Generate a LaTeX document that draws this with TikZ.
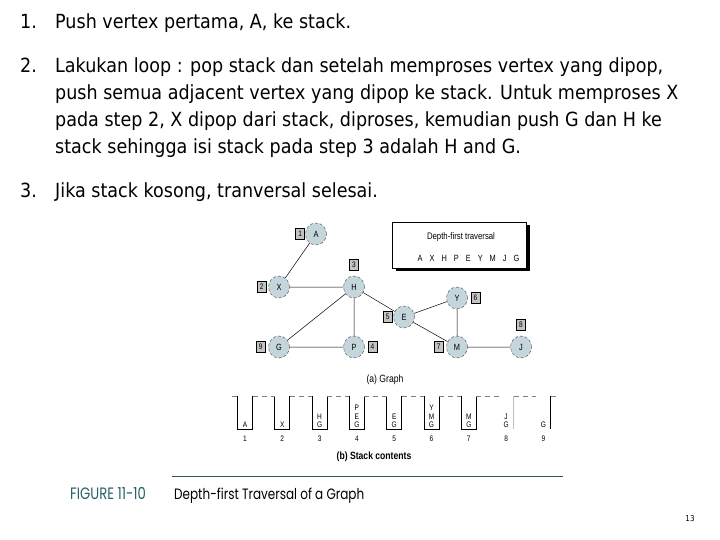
\documentclass[tikz,border=0pt]{standalone}
\usepackage{fontspec}
\setmainfont{DejaVu Sans}[FakeStretch=0.9]
\newfontfamily\figfont[FakeStretch=0.82]{Liberation Sans}
\newfontfamily\capfont[FakeStretch=0.8]{Poppins}
\usetikzlibrary{shapes,positioning,shadows}
\definecolor{vfill}{RGB}{196,214,220}
\definecolor{numgray}{RGB}{196,196,196}
\definecolor{figteal}{RGB}{38,98,104}
\definecolor{capline}{RGB}{60,84,88}

\begin{document}
\begin{tikzpicture}[x=1pt,y=-1pt]
\useasboundingbox (0,0) rectangle (720,540);
\tikzstyle{item}=[anchor=base west,inner sep=0pt,font=\fontsize{19.5}{19.5}\selectfont]
\tikzstyle{vertex}=[ellipse,draw=black!75,densely dashed,fill=vfill,minimum width=21pt,minimum height=22pt,inner sep=0pt,font=\figfont\fontsize{9}{9}\selectfont]
\tikzstyle{num}=[draw,fill=numgray,inner sep=0pt,minimum width=9pt,minimum height=11pt,font=\figfont\fontsize{8}{8}\selectfont]
\tikzstyle{edge}=[black,line width=0.5pt]
\tikzstyle{wall}=[line width=0.9pt]
\tikzstyle{gap}=[gray,line width=0.9pt,dash pattern=on 5pt off 4pt]
\tikzstyle{stackitem}=[anchor=south,align=center,inner sep=0pt,font=\figfont\fontsize{8}{8.5}\selectfont]
\tikzstyle{stacknum}=[inner sep=0pt,font=\figfont\fontsize{8}{8}\selectfont]
\tikzstyle{caption}=[anchor=base west,inner sep=0pt,font=\capfont\fontsize{15}{15}\selectfont]

\node[item] (n1) at (20,29) {1.};
\node[item] (t1) at (55,29) {Push vertex pertama, A, ke stack.};
\node[item] (n2) at (20,73) {2.};
\node[item] (t2a) at (55,73) {Lakukan loop : pop stack dan setelah memproses vertex yang dipop,};
\node[item] (t2b) at (55,100) {push semua adjacent vertex yang dipop ke stack. Untuk memproses X};
\node[item] (t2c) at (55,127) {pada step 2, X dipop dari stack, diproses, kemudian push G dan H ke};
\node[item] (t2d) at (55,154) {stack sehingga isi stack pada step 3 adalah H and G.};
\node[item] (n3) at (20,198) {3.};
\node[item] (t3) at (55,198) {Jika stack kosong, tranversal selesai.};

\node[vertex] (A) at (316,234) {A};
\node[vertex] (X) at (279,287) {X};
\node[vertex] (H) at (354,287) {H};
\node[vertex] (E) at (404,317) {E};
\node[vertex] (Y) at (457,298) {Y};
\node[vertex] (G) at (279,347) {G};
\node[vertex] (P) at (354,347) {P};
\node[vertex] (M) at (457,347) {M};
\node[vertex] (J) at (521,347) {J};

\node[num,left=0.5pt of A] (nA) {1};
\node[num,left=2pt of X] (nX) {2};
\node[num,above=5pt of H] (nH) {3};
\node[num,right=3pt of P] (nP) {4};
\node[num,left=1pt of E] (nE) {5};
\node[num,right=3pt of Y] (nY) {6};
\node[num,left=3pt of M] (nM) {7};
\node[num,above=5pt of J] (nJ) {8};
\node[num,left=3pt of G] (nG) {9};

\draw[edge] (A) -- (X) (X) -- (H) (H) -- (G) (H) -- (P) (H) -- (E)
  (G) -- (P) (E) -- (Y) (E) -- (M) (Y) -- (M) (M) -- (J);

\node[draw,line width=0.8pt,fill=white,minimum width=134pt,minimum height=46pt,
  drop shadow={shadow xshift=3pt,shadow yshift=-3pt,fill=black,opacity=1}] (trav) at (459.5,245) {};
\node[font=\figfont\fontsize{9.5}{9.5}\selectfont] (travtitle) at (461,237) {Depth-first traversal};
\node[font=\figfont\fontsize{9}{9}\selectfont] (travorder) at (468.5,258)
  {A\hspace{7pt}X\hspace{7pt}H\hspace{7pt}P\hspace{7pt}E\hspace{7pt}Y\hspace{7pt}M\hspace{7pt}J\hspace{7pt}G};

\node[font=\figfont\fontsize{10.5}{10.5}\selectfont] (capa) at (385,380) {(a) Graph};

\foreach \i/\s in {1/A,2/X,3/{H\\G},4/{P\\E\\G},5/{E\\G},6/{Y\\M\\G},7/{M\\G},8/{J\\G},9/G} {
  \pgfmathsetmacro\cx{245+37.3*(\i-1)}
  \node[stackitem] (s\i) at (\cx,428) {\s};
  \node[stacknum] (k\i) at (\cx,439) {\i};
}
\foreach \i in {1,...,7} {
  \pgfmathsetmacro\cx{245+37.3*(\i-1)}
  \draw[wall] (\cx-7.5,396) -- (\cx-7.5,429) -- (\cx+7.5,429) -- (\cx+7.5,396);
}
\draw[wall,black!25] (245+37.3*7+7.5,396) -- (245+37.3*7+7.5,429);
\draw[wall] (245+37.3*8+7.5,396) -- (245+37.3*8+7.5,429);
\foreach \i in {1,...,8} {
  \pgfmathsetmacro\cx{245+37.3*(\i-1)}
  \draw[gap] (\cx+7.5,396) -- (\cx+29.8,396);
}
\draw[gap] (231.5,396) -- (237.5,396);
\draw[gap] (245+37.3*8+7.5,396) -- ++(6,0);

\node[font=\figfont\bfseries\fontsize{10.5}{10.5}\selectfont] (capb) at (374,457) {(b) Stack contents};

\draw[capline,line width=1pt] (172,476) -- (563,476);
\node[caption,text=figteal,font=\capfont\fontsize{16.5}{16.5}\selectfont] (figno) at (70,499) {FIGURE 11-10};
\node[caption] (figtitle) at (174,499) {Depth-first Traversal of a Graph};

\node[font=\fontsize{8}{8}\selectfont] (page) at (690,519) {13};
\end{tikzpicture}
\end{document}
